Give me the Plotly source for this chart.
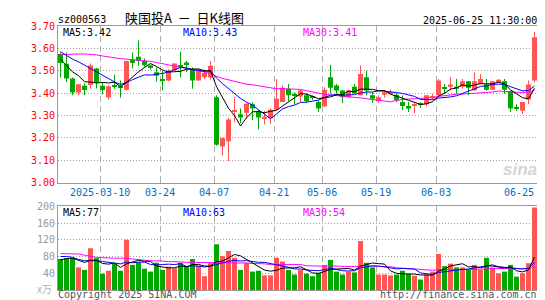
import numpy as np
import pandas as pd
import plotly.graph_objects as go

# ---------------- data ----------------
holidays = ["2025-04-04", "2025-05-01", "2025-05-02", "2025-05-05", "2025-06-02"]
dates = pd.bdate_range("2025-02-27", "2025-06-25", freq="C", holidays=holidays)
date_str = [d.strftime("%Y-%m-%d") for d in dates]

open_ = [3.575, 3.531, 3.465, 3.403, 3.433, 3.436, 3.510, 3.433, 3.382, 3.434,
         3.431, 3.415, 3.549, 3.563, 3.544, 3.524, 3.493, 3.463, 3.456, 3.503,
         3.524, 3.537, 3.507, 3.456, 3.471, 3.470, 3.382, 3.162, 3.185, 3.316,
         3.306, 3.312, 3.350, 3.316, 3.284, 3.288, 3.326, 3.360, 3.419, 3.393,
         3.385, 3.390, 3.385, 3.360, 3.341, 3.471, 3.434, 3.412, 3.382, 3.429,
         3.390, 3.471, 3.390, 3.365, 3.393, 3.397, 3.393, 3.360, 3.343, 3.343,
         3.352, 3.350, 3.380, 3.390, 3.424, 3.429, 3.429, 3.429, 3.453, 3.412,
         3.441, 3.438, 3.415, 3.453, 3.453, 3.409, 3.333, 3.321, 3.371, 3.456]
high = [3.582, 3.582, 3.470, 3.440, 3.444, 3.532, 3.512, 3.450, 3.434, 3.482,
        3.456, 3.546, 3.582, 3.635, 3.555, 3.527, 3.515, 3.500, 3.507, 3.532,
        3.585, 3.544, 3.515, 3.507, 3.507, 3.544, 3.390, 3.200, 3.290, 3.383,
        3.331, 3.356, 3.360, 3.326, 3.320, 3.332, 3.463, 3.434, 3.441, 3.404,
        3.415, 3.397, 3.390, 3.368, 3.426, 3.526, 3.441, 3.415, 3.415, 3.441,
        3.522, 3.500, 3.404, 3.390, 3.412, 3.415, 3.400, 3.390, 3.360, 3.360,
        3.360, 3.390, 3.397, 3.463, 3.441, 3.471, 3.463, 3.463, 3.453, 3.493,
        3.485, 3.463, 3.453, 3.463, 3.463, 3.409, 3.350, 3.360, 3.456, 3.674]
low = [3.470, 3.450, 3.390, 3.390, 3.390, 3.421, 3.421, 3.395, 3.370, 3.419,
       3.379, 3.412, 3.510, 3.522, 3.518, 3.506, 3.452, 3.412, 3.453, 3.500,
       3.471, 3.493, 3.419, 3.456, 3.463, 3.460, 3.165, 3.122, 3.095, 3.270,
       3.265, 3.287, 3.280, 3.238, 3.260, 3.262, 3.324, 3.360, 3.365, 3.350,
       3.360, 3.356, 3.370, 3.316, 3.338, 3.397, 3.397, 3.356, 3.382, 3.397,
       3.390, 3.390, 3.356, 3.356, 3.379, 3.397, 3.360, 3.324, 3.316, 3.309,
       3.335, 3.341, 3.368, 3.382, 3.397, 3.412, 3.397, 3.419, 3.390, 3.412,
       3.438, 3.412, 3.415, 3.449, 3.397, 3.316, 3.320, 3.306, 3.350, 3.449]
close = [3.535, 3.465, 3.403, 3.440, 3.414, 3.524, 3.446, 3.414, 3.431, 3.429,
         3.424, 3.544, 3.535, 3.545, 3.525, 3.512, 3.478, 3.456, 3.500, 3.532,
         3.520, 3.526, 3.456, 3.507, 3.490, 3.522, 3.169, 3.200, 3.282, 3.324,
         3.291, 3.353, 3.331, 3.291, 3.294, 3.326, 3.375, 3.424, 3.390, 3.388,
         3.412, 3.365, 3.380, 3.331, 3.415, 3.424, 3.412, 3.382, 3.412, 3.400,
         3.485, 3.412, 3.375, 3.382, 3.404, 3.404, 3.368, 3.343, 3.331, 3.350,
         3.350, 3.390, 3.385, 3.456, 3.419, 3.438, 3.419, 3.453, 3.424, 3.453,
         3.463, 3.415, 3.453, 3.460, 3.415, 3.331, 3.331, 3.360, 3.438, 3.650]
volume = [74, 76, 77, 54, 48, 100, 76, 39, 46, 62,
          46, 120, 60, 66, 51, 44, 65, 48, 56, 52,
          65, 56, 74, 58, 33, 64, 109, 81, 93, 77,
          48, 65, 44, 46, 35, 35, 77, 68, 48, 37,
          48, 39, 33, 41, 60, 72, 44, 37, 44, 42,
          117, 65, 54, 37, 37, 35, 37, 46, 38, 34,
          25, 37, 44, 86, 57, 63, 54, 54, 48, 60,
          48, 77, 54, 40, 44, 60, 32, 40, 64, 197]

# moving-average values at the left edge (history before the first visible day)
ma5_head = [3.552, 3.525, 3.495, 3.478]
ma10_head = [3.585, 3.568, 3.552, 3.540, 3.525, 3.510, 3.495, 3.478, 3.462]
ma30_head = [3.572, 3.574, 3.575, 3.575, 3.575, 3.574, 3.571, 3.566, 3.561, 3.557,
             3.554, 3.552, 3.550, 3.549, 3.547, 3.542, 3.537, 3.532, 3.527, 3.522,
             3.517, 3.512, 3.506, 3.500, 3.494, 3.488, 3.475, 3.466, 3.459]
vma5_head = [72, 75, 76, 70]
vma10_head = [80, 80, 78, 73, 70, 70, 70, 68, 66]
vma30_head = [87, 87, 87, 86, 83, 80, 78, 77, 76, 76, 76, 76, 74, 72, 71, 70, 70,
              69, 68, 68, 67, 66, 66, 65, 65, 65, 66, 66, 66]

tick_dates = ["2025-03-10", "2025-03-24", "2025-04-07", "2025-04-21",
              "2025-05-06", "2025-05-19", "2025-06-03"]
last_label = "06-25"
price_ticks = [3.00, 3.10, 3.20, 3.30, 3.40, 3.50, 3.60, 3.70]
vol_ticks = [0, 40, 80, 120, 160, 200]

# ---------------- derived ----------------
o = np.array(open_); h = np.array(high); l = np.array(low); c = np.array(close)
v = np.array(volume, dtype=float)
n = len(c)
x = np.arange(n)


def ma(arr, w, head):
    s = pd.Series(arr).rolling(w).mean().to_numpy()
    s[:len(head)] = head
    return s


ma5 = ma(c, 5, ma5_head); ma10 = ma(c, 10, ma10_head); ma30 = ma(c, 30, ma30_head)
vma5 = ma(v, 5, vma5_head); vma10 = ma(v, 10, vma10_head); vma30 = ma(v, 30, vma30_head)

RED = "#ff5555"
GREEN = "#00a800"
colors = [RED if cc >= oo else GREEN for oo, cc in zip(o, c)]

# pixel helpers (figure 545x300, plot area x 50..529, y 18..286)
L_, R_, T_, B_ = 50, 16, 18, 14
PW = 545 - L_ - R_
PH = 300 - T_ - B_


def px(xp):
    return (xp - L_) / PW


def py(yp):
    return (300 - B_ - yp) / PH


main_dom = [py(177), 1.0]
vol_dom = [0.0, py(201)]
xr = [-2.5 / 6, -2.5 / 6 + PW / 6]
grid_pos = [date_str.index(d) - 0.4 for d in tick_dates]
grid_text = [tick_dates[0]] + [d[5:] for d in tick_dates[1:]]

MONO = "DejaVu Sans Mono"

fig = go.Figure()
# wicks
fig.add_trace(go.Bar(x=x, y=h - l, base=l, width=1 / 6, marker=dict(color=colors, line=dict(width=0)),
                     xaxis="x", yaxis="y", hoverinfo="skip"))
# bodies
body = np.maximum(np.abs(c - o), 0.0045)
fig.add_trace(go.Bar(x=x, y=body, base=np.minimum(o, c), width=5 / 6,
                     marker=dict(color=colors, line=dict(width=0)),
                     xaxis="x", yaxis="y", hoverinfo="skip"))
for arr, col in [(ma30, "#ff00ff"), (ma10, "#0000ff"), (ma5, "#000000")]:
    fig.add_trace(go.Scatter(x=x, y=arr, mode="lines", line=dict(color=col, width=1),
                             xaxis="x", yaxis="y", hoverinfo="skip"))
# volume
fig.add_trace(go.Bar(x=x, y=v, width=5 / 6, marker=dict(color=colors, line=dict(width=0)),
                     xaxis="x2", yaxis="y2", hoverinfo="skip"))
for arr, col in [(vma30, "#ff00ff"), (vma10, "#0000ff"), (vma5, "#000000")]:
    fig.add_trace(go.Scatter(x=x, y=arr, mode="lines", line=dict(color=col, width=1),
                             xaxis="x2", yaxis="y2", hoverinfo="skip"))

axis_common = dict(showline=True, mirror=True, linecolor="#999999", linewidth=1, zeroline=False)
fig.update_layout(
    width=545, height=300,
    margin=dict(l=L_, r=R_, t=T_, b=B_, pad=0),
    paper_bgcolor="white", plot_bgcolor="white",
    showlegend=False, barmode="overlay",
    xaxis=dict(domain=[0, 1], range=xr, anchor="y", tickmode="array", tickvals=grid_pos,
               ticktext=grid_text, showgrid=True, gridcolor="#b0b0b0", griddash="6px,4px",
               gridwidth=1, ticks="inside", ticklen=4, tickcolor="#b0b0b0",
               tickfont=dict(family=MONO, size=10, color="#0070c0"), **axis_common),
    yaxis=dict(domain=main_dom, range=[3.0, 3.7], anchor="x", tickmode="array",
               tickvals=price_ticks, ticktext=["%.2f" % t for t in price_ticks],
               showgrid=True, gridcolor="#a0a0a0", griddash="1px,2px", gridwidth=1,
               ticks="", tickfont=dict(family=MONO, size=10, color="#ff0000"), **axis_common),
    xaxis2=dict(domain=[0, 1], range=xr, anchor="y2", tickmode="array", tickvals=grid_pos,
                showticklabels=False, showgrid=True, gridcolor="#b0b0b0", griddash="6px,4px",
                gridwidth=1, ticks="", **axis_common),
    yaxis2=dict(domain=vol_dom, range=[0, 200], anchor="x2", tickmode="array",
                tickvals=vol_ticks, ticktext=[""] + [str(t) for t in vol_ticks[1:]],
                showgrid=True, gridcolor="#a0a0a0", griddash="1px,2px", gridwidth=1,
                ticks="", tickfont=dict(family=MONO, size=10, color="#999999"), **axis_common),
)


def txt(s, xp, yp, color="#000000", size=10, anchor="left", family=MONO, yanchor="middle"):
    fig.add_annotation(text=s, x=px(xp), y=py(yp), xref="paper", yref="paper",
                       xanchor=anchor, yanchor=yanchor, showarrow=False, borderpad=0,
                       font=dict(family=family, size=size, color=color))


txt("sz000563", 49, 11)
txt("陕国投A  －  日K线图", 176, 9, size=13, anchor="center", family="Noto Sans CJK SC")
txt("2025-06-25 11:30:00", 530, 12, anchor="right")
txt("MA5:%.2f" % ma5[-1], 54, 25)
txt("MA10:%.2f" % ma10[-1], 174, 25, color="#0000ff")
txt("MA30:%.2f" % ma30[-1], 294, 25, color="#ff00ff")
txt("MA5:77", 54, 207)
txt("MA10:63", 174, 207, color="#0000ff")
txt("MA30:54", 294, 207, color="#ff00ff")
txt(last_label, 527, 187, color="#0070c0", anchor="right")
txt("x万", 45, 284, color="#b0b0b0", anchor="right", family="Noto Sans CJK SC")
txt("Copyright 2025 SINA.COM", 49, 291, color="#555555")
txt("http://finance.sina.com.cn", 530, 291, color="#555555", anchor="right")
txt("<b><i>sina</i></b>", 512, 164, color="#d4d4d4", size=17, anchor="center",
    family="Arial, Liberation Sans")

fig.write_html("out.html")
